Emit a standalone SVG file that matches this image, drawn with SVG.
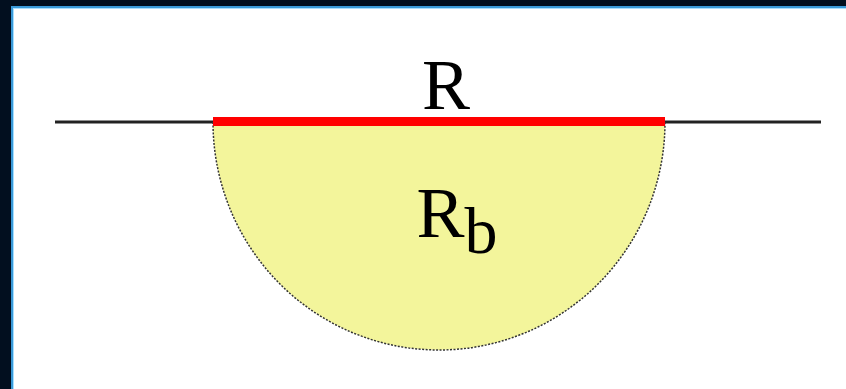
<svg xmlns="http://www.w3.org/2000/svg" width="846" height="389" viewBox="0 0 846 389">
<style>
.lbl{font-family:"Liberation Serif","Times New Roman",serif;fill:#000;}
</style>
<rect x="0" y="0" width="846" height="389" fill="#020f1f"/>
<rect x="11" y="6" width="835" height="383" fill="#3a9ad9"/>
<rect x="13" y="8" width="833" height="381" fill="#a8e0ff"/>
<rect x="14" y="9" width="832" height="380" fill="#ffffff"/>
<g id="connectors">
<line x1="55" y1="122" x2="821" y2="122" stroke="#222" stroke-width="3"/>
</g>
<g id="halfdisk">
<path d="M213,122 A226,228 0 0 0 665,122 Z" fill="#f3f59b" stroke="#333" stroke-width="1.5" stroke-dasharray="2,1.5"/>
<text class="lbl" x="457" y="237" font-size="72" text-anchor="middle">R<tspan font-size="66" dy="16">b</tspan></text>
</g>
<g id="boundary">
<rect x="213" y="117" width="452" height="9" fill="#ff0000"/>
<text class="lbl" x="446" y="109" font-size="72" text-anchor="middle">R</text>
</g>
</svg>
